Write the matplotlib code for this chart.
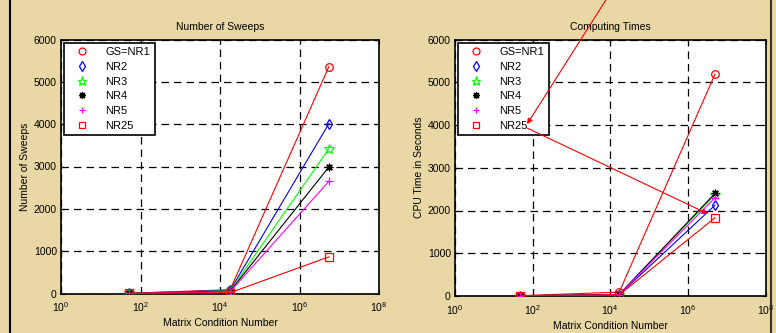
import matplotlib
matplotlib.use("Agg")
import matplotlib.pyplot as plt
from matplotlib.lines import Line2D
import numpy as np

plt.rcParams['font.family'] = ['Liberation Sans', 'DejaVu Sans']

# Data
cond_numbers = [50, 1.8e4, 5.5e6]
series_names = ["GS=NR1", "NR2", "NR3", "NR4", "NR5", "NR25"]
sweeps = {
    "GS=NR1": [5, 90, 5360],
    "NR2": [5, 75, 4015],
    "NR3": [5, 65, 3420],
    "NR4": [5, 55, 2990],
    "NR5": [5, 45, 2650],
    "NR25": [5, 20, 865],
}
cpu_cond_numbers = [48, 1.7e4, 5.0e6]
cpu_times = {
    "GS=NR1": [8, 90, 5190],
    "NR2": [5, 30, 2125],
    "NR3": [5, 35, 2370],
    "NR4": [5, 38, 2400],
    "NR5": [5, 32, 2300],
    "NR25": [5, 25, 1830],
}
colors = {"GS=NR1": "#ff0000", "NR2": "#0000ff", "NR3": "#00ff00",
          "NR4": "#000000", "NR5": "#ff00ff", "NR25": "#ff0000"}
markers = {"GS=NR1": "o", "NR2": "d", "NR3": "*", "NR4": (8, 2, 0), "NR5": "+", "NR25": "s"}
hollow = {"GS=NR1": True, "NR2": True, "NR3": True, "NR4": False, "NR5": False, "NR25": True}
xticks = [1e0, 1e2, 1e4, 1e6, 1e8]
yticks = [0, 1000, 2000, 3000, 4000, 5000, 6000]

bg = "#e9d8a5"
fig = plt.figure(figsize=(7.76, 3.33), dpi=100, facecolor=bg)

W, H = 776, 333
def ax_rect(x0, x1, ytop, ybot):
    return [x0 / W, 1 - ybot / H, (x1 - x0) / W, (ybot - ytop) / H]

ax1 = fig.add_axes(ax_rect(61, 379, 39.5, 293.5))
ax2 = fig.add_axes(ax_rect(455, 765.5, 39.5, 296))

def msize(name):
    return 7 if name == "NR3" else 5.5

def style(ax, xs, data, title, ylabel):
    for name in series_names:
        c = colors[name]
        m = markers[name]
        mfc = 'none' if hollow[name] else c
        ax.plot(xs, data[name], color=c, lw=0.8, marker=m, ms=msize(name),
                mfc=mfc, mec=c, mew=0.9, zorder=3)
    ax.set_xscale('log')
    ax.set_xlim(1e0, 1e8)
    ax.set_ylim(0, 6000)
    ax.set_xticks(xticks)
    ax.set_yticks(yticks)
    ax.xaxis.set_minor_locator(matplotlib.ticker.NullLocator())
    ax.grid(True, color='black', linestyle=(0, (6, 4)), lw=0.9)
    ax.tick_params(direction='in', top=True, right=True, labelsize=7.5,
                   length=3)
    ax.tick_params(axis='x', pad=5)
    ax.tick_params(axis='y', pad=3)
    ax.set_title(title, fontsize=7.5, pad=7)
    ax.set_xlabel("Matrix Condition Number", fontsize=7.5, labelpad=3)
    ax.set_ylabel(ylabel, fontsize=7.5, labelpad=3)
    for sp in ax.spines.values():
        sp.set_linewidth(1.2)
    handles = [Line2D([], [], color=colors[n], marker=markers[n], ls='none',
                      ms=msize(n) - 0.5, mfc='none' if hollow[n] else colors[n],
                      mec=colors[n], mew=0.9) for n in series_names]
    leg = ax.legend(handles, series_names, loc='upper left', fontsize=8,
                    frameon=True, fancybox=False, edgecolor='black',
                    borderaxespad=0.3, handlelength=2.4, handletextpad=0.9,
                    labelspacing=0.42, borderpad=0.4, framealpha=1)
    leg.get_frame().set_linewidth(1.2)

style(ax1, cond_numbers, sweeps, "Number of Sweeps", "Number of Sweeps")
style(ax2, cpu_cond_numbers, cpu_times, "Computing Times", "CPU Time in Seconds")

# Annotation arrows in the right chart
ax2.annotate("", xy=(72, 4020), xytext=(1.2e4, 7200),
             arrowprops=dict(arrowstyle='-|>', color='red', lw=0.8,
                             mutation_scale=8, shrinkA=0, shrinkB=0),
             annotation_clip=False, zorder=10)
ax2.annotate("", xy=(3.3e6, 1920), xytext=(72, 3930),
             arrowprops=dict(arrowstyle='-|>', color='red', lw=0.8,
                             mutation_scale=8, shrinkA=0, shrinkB=0,
                             facecolor='none'),
             annotation_clip=False, zorder=10)

# Frame lines at the sides
fig.add_artist(Line2D([10 / W, 10 / W], [0, 1], color='black', lw=1.5))
fig.add_artist(Line2D([771 / W, 771 / W], [0, 1], color='#3a3020', lw=1.5))

fig.savefig("out.png", dpi=100, facecolor=bg)
